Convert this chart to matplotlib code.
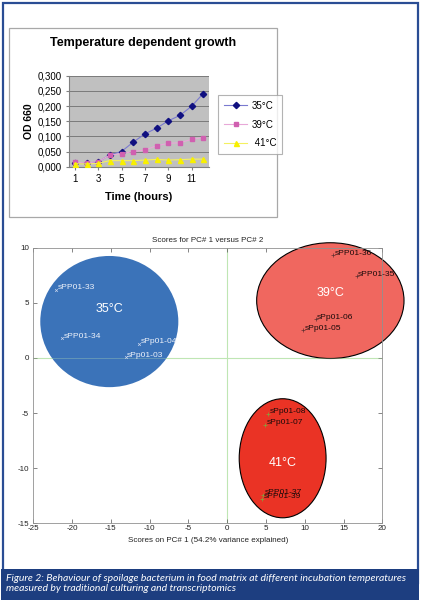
import matplotlib
matplotlib.use("Agg")
import matplotlib.pyplot as plt
from matplotlib.patches import Rectangle, Ellipse

plt.rcParams["axes.unicode_minus"] = False

# ---------------- data ----------------
hours = [1, 2, 3, 4, 5, 6, 7, 8, 9, 10, 11, 12]
od_35 = [0.012, 0.012, 0.016, 0.039, 0.050, 0.081, 0.108, 0.127, 0.151, 0.169, 0.199, 0.241]
od_39 = [0.015, 0.012, 0.017, 0.038, 0.043, 0.050, 0.055, 0.069, 0.077, 0.079, 0.090, 0.096]
od_41 = [0.010, 0.009, 0.011, 0.020, 0.020, 0.020, 0.022, 0.024, 0.022, 0.023, 0.025, 0.025]
growth_labels = ["35°C", "39°C", " 41°C"]
x_ticks_top = [1, 3, 5, 7, 9, 11]
y_ticks_top = [0.0, 0.05, 0.10, 0.15, 0.20, 0.25, 0.30]

samples_35 = ["sPP01-33", "sPP01-34", "sPp01-04", "sPp01-03"]
pc1_35 = [-22.1, -21.3, -11.4, -13.1]
pc2_35 = [6.2, 1.8, 1.3, 0.1]
samples_39 = ["sPP01-36", "sPP01-35", "sPp01-06", "sPp01-05"]
pc1_39 = [13.7, 16.7, 11.4, 9.8]
pc2_39 = [9.3, 7.4, 3.5, 2.5]
samples_41 = ["sPp01-08", "sPp01-07", "sPP01-37", "sPP01-39"]
pc1_41 = [5.3, 4.9, 4.65, 4.55]
pc2_41 = [-5.1, -6.1, -12.45, -12.8]

groups = ["35°C", "39°C", "41°C"]
ell_cx = [-15.2, 13.3, 7.15]
ell_cy = [3.3, 5.2, -9.1]
ell_w = [17.8, 19.0, 11.2]
ell_h = [11.9, 10.5, 10.8]

caption = ("Figure 2: Behaviour of spoilage bacterium in food matrix at different incubation temperatures\n"
           "measured by traditional culturing and transcriptomics")

# ---------------- figure ----------------
W, H = 423, 600
fig = plt.figure(figsize=(W / 100, H / 100), dpi=100)

def px_axes(l, t, r, b, **kw):
    return fig.add_axes([l / W, 1 - b / H, (r - l) / W, (b - t) / H], **kw)

bg = px_axes(0, 0, W, H)
bg.set_xlim(0, W); bg.set_ylim(H, 0); bg.axis("off")
frame_col = "#2a4d94"
bg.add_patch(Rectangle((2.5, 2.5), 415, 580, fill=False, ec=frame_col, lw=1.6))
bg.add_patch(Rectangle((1, 568.5), 417.5, 32, fc="#1d3e80", ec="none"))
bg.add_patch(Rectangle((9, 28), 268, 189, fc="white", ec="#a8a8a8", lw=0.9))
bg.text(6.5, 583.5, caption, color="white", fontsize=7.5, family="Lato", style="italic",
        va="center", ha="left", linespacing=1.2)

# ---------------- growth chart ----------------
ax1 = px_axes(69, 75.7, 209, 166.7)
ax1.set_facecolor("#c0c0c0")
for y in y_ticks_top[1:]:
    ax1.axhline(y, color="#7a7a7a", lw=0.7, zorder=1)
ax1.plot(hours, od_35, color="#7a7ad0", lw=0.8, marker="D", ms=3.2, mfc="#101080", mec="#101080",
         label=growth_labels[0], zorder=3)
ax1.plot(hours, od_39, color="#e8a8d8", lw=0.8, marker="s", ms=3.2, mfc="#d060b0", mec="#d060b0",
         label=growth_labels[1], zorder=3)
ax1.plot(hours, od_41, color="#f4f060", lw=0.8, marker="^", ms=3.6, mfc="#f8f000", mec="#f8f000",
         label=growth_labels[2], zorder=3)
ax1.set_xlim(0.5, 12.5)
ax1.set_ylim(0, 0.3)
ax1.set_xticks(x_ticks_top)
ax1.set_yticks(y_ticks_top)
ax1.set_yticklabels([f"{v:.3f}".replace(".", ",") for v in y_ticks_top])
for s in ["top", "right"]:
    ax1.spines[s].set_visible(False)
for s in ["left", "bottom"]:
    ax1.spines[s].set_color("#808080"); ax1.spines[s].set_linewidth(0.8)
ax1.tick_params(axis="both", labelsize=7, length=2.5, color="#808080", pad=2.5)
for lab in ax1.get_xticklabels() + ax1.get_yticklabels():
    lab.set_family("Liberation Sans")
ax1.set_xlabel("Time (hours)", fontsize=8, fontweight="bold", family="Liberation Sans", labelpad=6)
ax1.set_ylabel("OD 660", fontsize=7.5, fontweight="bold", family="Liberation Sans", labelpad=3)
bg.text(143, 43, "Temperature dependent growth", fontsize=9, fontweight="bold",
        family="Liberation Sans", ha="center", va="center")
leg = fig.legend(loc="upper left", bbox_to_anchor=(218 / W, 1 - 95 / H), borderaxespad=0,
                 frameon=True, fancybox=False, edgecolor="#a0a0a0",
                 prop={"family": "Liberation Sans", "size": 7}, handlelength=2.4,
                 labelspacing=0.9, borderpad=0.6, handletextpad=0.5)
leg.get_frame().set_linewidth(0.8)

# ---------------- PCA scores ----------------
ax2 = px_axes(33.3, 247.7, 382.3, 523.3)
ax2.set_xlim(-25, 20)
ax2.set_ylim(-15, 10)
ell_fc = ["#3b73b9", "#f0675f", "#ea3325"]
ell_ec = ["none", "black", "black"]
for cx, cy, w, h, fc, ec in zip(ell_cx, ell_cy, ell_w, ell_h, ell_fc, ell_ec):
    ax2.add_patch(Ellipse((cx, cy), w, h, fc=fc, ec=ec, lw=0.8, zorder=2, clip_on=False))
ax2.axhline(0, color="#bfe6b4", lw=0.8, zorder=1)
ax2.axvline(0, color="#bfe6b4", lw=0.8, zorder=1)
ax2.axhline(0, color="#bfe6b4", lw=0.6, zorder=2.5, alpha=0.35)
label_dy = [1.1, 0.7, -0.4]
for gx, gy, t, dy in zip(ell_cx, ell_cy, groups, label_dy):
    ax2.text(gx, gy + dy, t, color="white", fontsize=9, ha="center", va="center", zorder=4,
             family="Liberation Sans")
lab_kw = dict(fontsize=6.1, family="Liberation Sans", va="center", ha="left", zorder=5)
ax2.scatter(pc1_35, pc2_35, marker="x", s=4, color="#c8d4ec", lw=0.5, zorder=4)
for x, y, t in zip(pc1_35, pc2_35, samples_35):
    ax2.text(x + 0.2, y + 0.15, t, color="#eef2fa", **lab_kw)
ax2.scatter(pc1_39, pc2_39, marker="+", s=10, color="#603030", lw=0.5, zorder=4)
for x, y, t in zip(pc1_39, pc2_39, samples_39):
    ax2.text(x + 0.2, y + 0.15, t, color="#1a0a0a", **lab_kw, clip_on=False)
ax2.scatter(pc1_41, pc2_41, marker="+", s=10, color="#8c9a3a", lw=0.6, zorder=4)
for x, y, t in zip(pc1_41, pc2_41, samples_41):
    ax2.text(x + 0.2, y + 0.25, t, color="#1a0a0a", **lab_kw)
ax2.set_xticks(range(-25, 21, 5))
ax2.set_yticks(range(-15, 11, 5))
ax2.tick_params(axis="both", direction="in", top=True, right=True, length=3, width=0.5,
                color="#555555", labelsize=5.8, pad=1.5, labelcolor="#222222")
ax2.tick_params(axis="y", pad=3)
for s in ax2.spines.values():
    s.set_color("#909090"); s.set_linewidth(0.6)
for lab in ax2.get_xticklabels() + ax2.get_yticklabels():
    lab.set_family("Liberation Sans")
ax2.set_title("Scores for PC# 1 versus PC# 2", fontsize=5.8, family="Liberation Sans",
              pad=4, color="#222222")
ax2.set_xlabel("Scores on PC# 1 (54.2% variance explained)", fontsize=5.8,
               family="Liberation Sans", labelpad=3, color="#222222")

fig.savefig("out.png", dpi=100)
